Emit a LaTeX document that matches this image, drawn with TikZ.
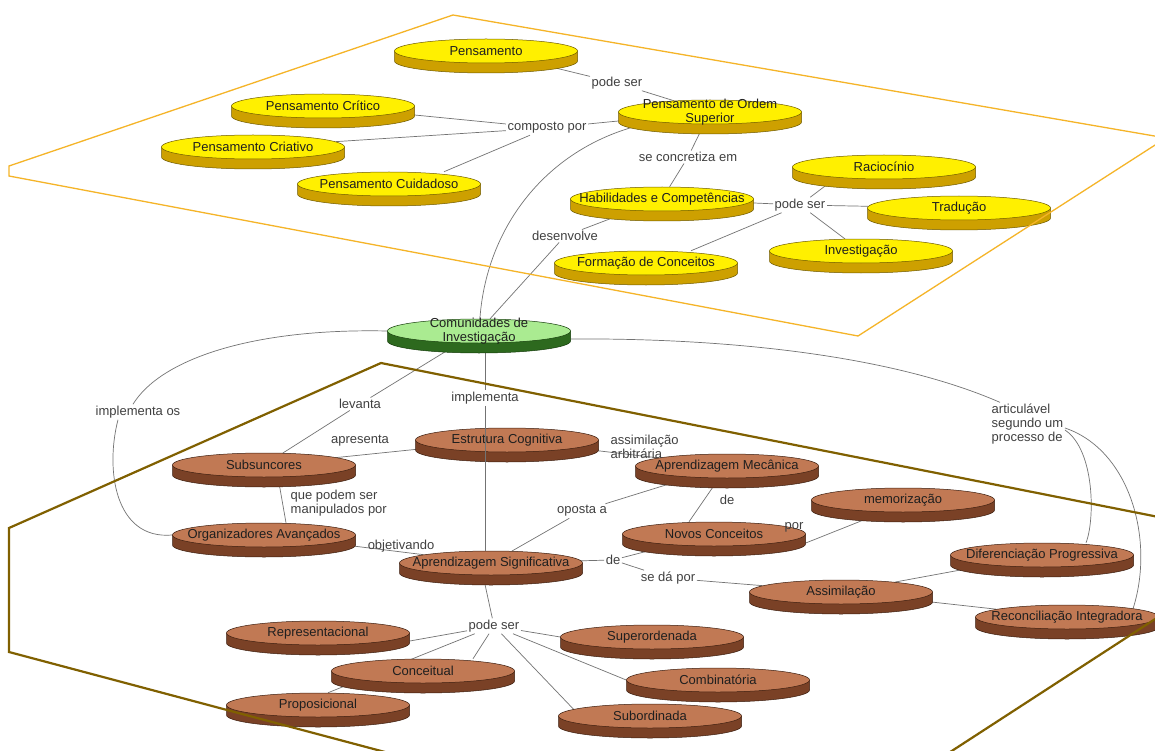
\documentclass[tikz,border=0pt]{standalone}
\usepackage{fontspec}
\setmainfont{Liberation Sans}
\usetikzlibrary{shapes.geometric,calc}

\pgfdeclarelayer{background}
\pgfdeclarelayer{foreground}
\pgfsetlayers{background,main,foreground}

% disc colours: face, side and outline for each palette
\definecolor{yface}{RGB}{255,240,0}
\definecolor{yside}{RGB}{205,160,0}
\definecolor{yline}{RGB}{110,90,0}
\definecolor{bface}{RGB}{193,121,84}
\definecolor{bside}{RGB}{122,65,38}
\definecolor{bline}{RGB}{60,30,15}
\definecolor{gface}{RGB}{170,235,145}
\definecolor{gside}{RGB}{45,105,30}
\definecolor{gline}{RGB}{20,60,10}
\definecolor{linkgray}{RGB}{115,115,115}
\definecolor{upperplane}{RGB}{245,180,40}
\definecolor{lowerplane}{RGB}{128,96,0}

\newcommand\csize{\fontsize{13pt}{13.8pt}\selectfont}

\tikzset{
  face/.style={ellipse, minimum width=183pt, minimum height=24pt, inner sep=0pt, line width=0.5pt},
  ctext/.style={align=center, inner sep=0pt, text=black!88, font=\csize},
  lnk/.style={inner sep=1.5pt, text=black!75, font=\csize, align=left},
  conn/.style={draw=linkgray, line width=0.7pt},
  upper/.style={draw=upperplane, line width=1.3pt, line join=miter},
  lower/.style={draw=lowerplane, line width=2.2pt, line join=miter},
}

% a concept drawn as a flat disc: name, x, y, palette, text
\newcommand\concept[5]{%
  \path[fill=#4side, draw=#4line, line width=0.5pt]
    (#2-91.5,#3) -- (#2-91.5,#3+10)
    arc[start angle=180, end angle=360, x radius=91.5pt, y radius=12pt]
    -- (#2+91.5,#3) -- cycle;
  \node[face, fill=#4face, draw=#4line] (#1) at (#2,#3) {};
  \node[ctext] (#1-t) at (#1) {#5};
}

\begin{document}
\begin{tikzpicture}[x=1pt, y=-1pt]
\useasboundingbox (0,0) rectangle (1155,751);
\begin{pgfonlayer}{background}
  \fill[white] (0,0) rectangle (1155,751);
\end{pgfonlayer}

% ---------- upper plane concepts ----------
\concept{pens}{486}{51}{y}{Pensamento}
\concept{crit}{323}{106}{y}{Pensamento Crítico}
\concept{criat}{253}{147}{y}{Pensamento Criativo}
\concept{cuid}{389}{184}{y}{Pensamento Cuidadoso}
\concept{pos}{710}{112}{y}{Pensamento de Ordem\\Superior}
\concept{rac}{884}{167}{y}{Raciocínio}
\concept{trad}{959}{208}{y}{Tradução}
\concept{hab}{662}{199}{y}{Habilidades e Competências}
\concept{inv}{861}{251}{y}{Investigação}
\concept{form}{646}{263}{y}{Formação de Conceitos}

% ---------- bridge concept ----------
\concept{com}{479}{331}{g}{Comunidades de\\Investigação}

% ---------- lower plane concepts ----------
\concept{estr}{507}{440}{b}{Estrutura Cognitiva}
\concept{subs}{264}{465}{b}{Subsuncores}
\concept{org}{264}{535}{b}{Organizadores Avançados}
\concept{mec}{727}{466}{b}{Aprendizagem Mecânica}
\concept{mem}{903}{500}{b}{memorização}
\concept{nov}{714}{534}{b}{Novos Conceitos}
\concept{asig}{491}{563}{b}{Aprendizagem Significativa}
\concept{dif}{1042}{555}{b}{Diferenciação Progressiva}
\concept{assim}{841}{592}{b}{Assimilação}
\concept{rec}{1067}{617}{b}{Reconciliação Integradora}
\concept{rep}{318}{633}{b}{Representacional}
\concept{sup}{652}{637}{b}{Superordenada}
\concept{conc}{423}{671}{b}{Conceitual}
\concept{comb}{718}{680}{b}{Combinatória}
\concept{prop}{318}{705}{b}{Proposicional}
\concept{sub}{650}{716}{b}{Subordinada}

% ---------- linking phrases ----------
\node[lnk] (ps1) at (617,83) {pode ser};
\node[lnk] (cp) at (547,128) {composto por};
\node[lnk] (sce) at (688,157) {se concretiza em};
\node[lnk] (ps2) at (800,205) {pode ser};
\node[lnk] (des) at (565,236) {desenvolve};
\node[lnk] (imos) at (138,412) {implementa os};
\node[lnk] (lev) at (360,404) {levanta};
\node[lnk] (impl) at (485,398) {implementa};
\node[lnk] (apr) at (360,441) {apresenta};
\node[lnk, anchor=west] (qps) at (289,503) {que podem ser\\manipulados por};
\node[lnk] (obj) at (401,546) {objetivando};
\node[lnk, anchor=west] (aa) at (609,447) {assimilação\\arbitrária};
\node[lnk] (op) at (582,511) {oposta a};
\node[lnk] (de1) at (727,500) {de};
\node[lnk] (por) at (794,527) {por};
\node[lnk] (de2) at (613,560) {de};
\node[lnk] (sdp) at (668,578) {se dá por};
\node[lnk] (ps3) at (494,626) {pode ser};
\node[lnk, anchor=west] (art) at (990,424) {articulável\\segundo um\\processo de};

% ---------- connectors ----------
\begin{pgfonlayer}{background}
  \draw[conn] (pens) -- (ps1) -- (pos);
  \draw[conn] (crit) -- (cp);
  \draw[conn] (criat) -- (cp);
  \draw[conn] ([xshift=55pt]cuid.north) -- (cp);
  \draw[conn] (cp) -- (pos);
  \draw[conn] (pos) -- (sce) -- (hab);
  \draw[conn] (hab) -- (ps2);
  \draw[conn] (ps2) -- ([xshift=-50pt]rac.south);
  \draw[conn] (ps2) -- (trad);
  \draw[conn] (ps2) -- (inv);
  \draw[conn] (ps2) -- ([xshift=45pt]form.north);
  \draw[conn] (hab) -- (des) -- (com);
  \draw[conn] (pos) .. controls (555,140) and (487,220) .. (com);

  \draw[conn] (com.west) .. controls (250,328) and (160,360) .. ([xshift=-5pt]imos.north);
  \draw[conn] ([xshift=-20pt]imos.south) .. controls (105,470) and (115,540) .. (org.west);
  \draw[conn] (com) -- (lev) -- (subs);
  \draw[conn] (impl |- com) -- (impl);
  \draw[conn] (estr) -- (subs);
  \draw[conn] ([xshift=14pt]subs.south) -- ([xshift=22pt]org.north);
  \draw[conn] (org) -- (asig);
  \draw[conn] (mec) -- (op) -- (asig);
  \draw[conn] (estr) -- (mec);
  \draw[conn] ([xshift=-8pt]mec.south) -- ([xshift=-25pt]nov.north);
  \draw[conn] ([yshift=-9pt]nov.east) -- ([xshift=-20pt]mem.south);
  \draw[conn] (asig) -- (de2) -- (nov);
  \draw[conn] (de2) -- (sdp) -- (assim);
  \draw[conn] (assim) -- (dif);
  \draw[conn] (assim) -- (rec);
  \draw[conn] ([yshift=-8pt]com.east) .. controls (700,338) and (880,350) .. ([xshift=10pt]art.north west);
  \draw[conn] ([yshift=-6pt]art.east) .. controls (1095,450) and (1095,520) .. ([xshift=44pt]dif.north);
  \draw[conn] ([yshift=-4pt]art.east) .. controls (1130,450) and (1155,540) .. ([xshift=66pt,yshift=-4pt]rec.north);

  \draw[conn] ([xshift=-8pt]asig.south) -- (ps3);
  \draw[conn] (ps3) -- ([yshift=-8pt]rep.east);
  \draw[conn] (ps3) -- ([xshift=50pt]conc.north);
  \draw[conn] (ps3) -- ([xshift=10pt]prop.north);
  \draw[conn] (ps3) -- (sup.west);
  \draw[conn] (ps3) -- (comb.west);
  \draw[conn] (ps3) -- ([xshift=-70pt]sub.center);
\end{pgfonlayer}

\begin{pgfonlayer}{foreground}
  % the vertical link runs over the cognitive-structure disc
  \draw[conn] (impl) -- (impl |- asig.north);

  % upper plane outline
  \draw[upper] (453,15) -- (1166,138) -- (858,336) -- (9,176) -- (9,166) -- cycle;
  % lower plane outline
  \draw[lower] (1300,545) -- (381,363) -- (9,528) -- (9,652) -- (400,756);
  \draw[lower] (944,756) -- (1300,525);
\end{pgfonlayer}
\end{tikzpicture}
\end{document}
